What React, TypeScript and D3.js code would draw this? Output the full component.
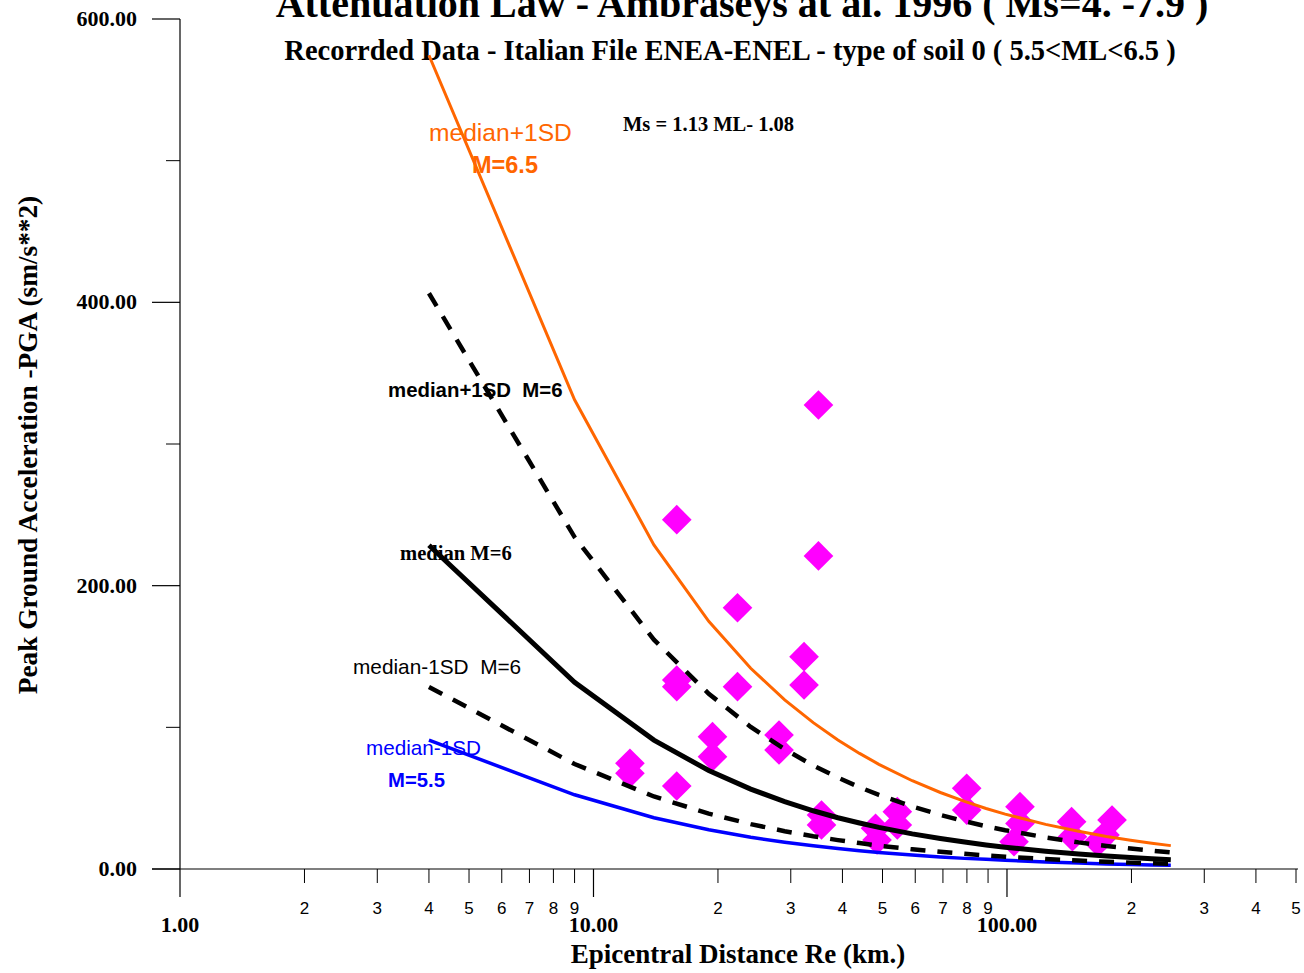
import React from "react";
import * as d3 from "d3";

// Epicentral distances (km) at which the attenuation curves are drawn
const distances = [4, 9, 14, 19, 24, 29, 34, 39, 44, 49, 59, 69, 79, 89, 99, 124, 149, 174, 199, 224, 249];

// PGA values (cm/s^2)
const plus1sdM65 = [574.4, 331.2, 228.8, 174.8, 141.7, 119.4, 103.3, 91.1, 81.6, 73.9, 62.3, 54.0, 47.7, 42.7, 38.7, 31.5, 26.6, 23.0, 20.3, 18.2, 16.5];
const plus1sdM6 = [406.4, 234.3, 161.9, 123.7, 100.3, 84.5, 73.1, 64.5, 57.7, 52.3, 44.1, 38.2, 33.7, 30.2, 27.4, 22.3, 18.8, 16.3, 14.4, 12.9, 11.7];
const medianM6 = [228.5, 131.8, 91.0, 69.5, 56.4, 47.5, 41.1, 36.2, 32.5, 29.4, 24.8, 21.5, 19.0, 17.0, 15.4, 12.5, 10.6, 9.2, 8.1, 7.2, 6.6];
const minus1sdM6 = [128.5, 74.1, 51.2, 39.1, 31.7, 26.7, 23.1, 20.4, 18.3, 16.5, 13.9, 12.1, 10.7, 9.6, 8.7, 7.0, 6.0, 5.1, 4.5, 4.1, 3.7];
const minus1sdM55 = [90.9, 52.4, 36.2, 27.7, 22.4, 18.9, 16.4, 14.4, 12.9, 11.7, 9.9, 8.5, 7.5, 6.8, 6.1, 5.0, 4.2, 3.6, 3.2, 2.9, 2.6];

// Recorded data (distance km, PGA cm/s^2)
const recDist = [12.25, 12.25, 15.9, 15.9, 15.9, 15.9, 19.4, 19.4, 22.3, 22.3, 28.1, 28.1, 32.3, 32.3, 35.0, 35.0, 35.6, 35.6, 48.1, 48.5, 54.3, 54.3, 79.9, 79.9, 107.5, 107.5, 104, 143.3, 144, 179.5, 172.6, 166];
const recPGA = [74.6, 67.6, 246.6, 133.4, 128.7, 58.6, 93.4, 79.3, 184.4, 128.7, 94.6, 84.0, 149.9, 129.9, 327.5, 221.0, 38.1, 31.1, 28.7, 20.5, 40.5, 31.1, 57.0, 41.6, 44.0, 32.2, 19.3, 33.4, 22.8, 34.6, 24.0, 19.0];

const yMajorTicks = [0, 200, 400, 600];
const yMinorTicks = [100, 300, 500];
const xMajorTicks = [1, 10, 100];
const xMinorTicks = [2, 3, 4, 5, 6, 7, 8, 9, 20, 30, 40, 50, 60, 70, 80, 90, 200, 300, 400, 500];

const SERIF = "'Liberation Serif', 'Times New Roman', serif";
const SANS = "'Liberation Sans', Arial, sans-serif";

export default function App() {
  const x = d3.scaleLog().domain([1, 500]).range([180, 1296]);
  const y = d3.scaleLinear().domain([0, 600]).range([869, 19]);

  const line = (vals: number[]) =>
    d3.line<number>().x((_, i) => x(distances[i])).y((v) => y(v))(vals) || "";

  const diamond = d3.symbol().type(d3.symbolSquare).size(440)() || "";

  return (
    <svg
      width={1304}
      height={973}
      style={{ position: "absolute", left: 0, top: 0, background: "#fff" }}
    >
      <rect width={1304} height={973} fill="#fff" />
      {/* Titles */}
      <text x={742} y={17} textAnchor="middle" fontFamily={SERIF} fontWeight="bold" fontSize={40}>
        Attenuation Law - Ambraseys at al. 1996 ( Ms=4. -7.9 )
      </text>
      <text x={730} y={60} textAnchor="middle" fontFamily={SERIF} fontWeight="bold" fontSize={28.5}>
        Recorrded Data - Italian File ENEA-ENEL - type of soil 0 ( 5.5&lt;ML&lt;6.5 )
      </text>
      <text x={623} y={131} fontFamily={SERIF} fontWeight="bold" fontSize={20.5}>
        Ms = 1.13 ML- 1.08
      </text>

      {/* Y axis */}
      <line x1={x(1)} x2={x(1)} y1={y(600)} y2={y(0)} stroke="#000" strokeWidth={1.2} />
      {yMajorTicks.map((t) => (
        <g key={"ym" + t}>
          <line x1={152} x2={180} y1={y(t)} y2={y(t)} stroke="#000" strokeWidth={1.2} />
          <text x={137} y={y(t) + 7} textAnchor="end" fontFamily={SERIF} fontWeight="bold" fontSize={22}>
            {t.toFixed(2)}
          </text>
        </g>
      ))}
      {yMinorTicks.map((t) => (
        <line key={"yn" + t} x1={166} x2={180} y1={y(t)} y2={y(t)} stroke="#000" strokeWidth={1} />
      ))}

      {/* X axis */}
      <line x1={152} x2={1298} y1={y(0)} y2={y(0)} stroke="#000" strokeWidth={1.2} />
      {xMajorTicks.map((t) => (
        <g key={"xm" + t}>
          <line x1={x(t)} x2={x(t)} y1={y(0)} y2={y(0) + 28} stroke="#000" strokeWidth={1.2} />
          <text x={x(t)} y={932} textAnchor="middle" fontFamily={SERIF} fontWeight="bold" fontSize={22}>
            {t.toFixed(2)}
          </text>
        </g>
      ))}
      {xMinorTicks.map((t) => (
        <g key={"xn" + t}>
          <line x1={x(t)} x2={x(t)} y1={y(0)} y2={y(0) + 14} stroke="#000" strokeWidth={1} />
          <text x={x(t)} y={914} textAnchor="middle" fontFamily={SANS} fontSize={17}>
            {String(t).charAt(0)}
          </text>
        </g>
      ))}

      <text x={738} y={963} textAnchor="middle" fontFamily={SERIF} fontWeight="bold" fontSize={27}>
        Epicentral Distance Re (km.)
      </text>
      <text
        transform="translate(37,445) rotate(-90)"
        textAnchor="middle"
        fontFamily={SERIF}
        fontWeight="bold"
        fontSize={27.3}
      >
        Peak Ground Acceleration -PGA (sm/s**2)
      </text>

      {/* Recorded data */}
      {recDist.map((d, i) => (
        <path
          key={"p" + i}
          d={diamond}
          transform={`translate(${x(d)},${y(recPGA[i])}) rotate(45)`}
          fill="#ff00ff"
        />
      ))}

      {/* Curves */}
      <path d={line(minus1sdM55)} fill="none" stroke="#0000ff" strokeWidth={3.5} />
      <path d={line(minus1sdM6)} fill="none" stroke="#000" strokeWidth={4.5} strokeDasharray="15 12" />
      <path d={line(medianM6)} fill="none" stroke="#000" strokeWidth={5} />
      <path d={line(plus1sdM6)} fill="none" stroke="#000" strokeWidth={4.5} strokeDasharray="15 12" />
      <path d={line(plus1sdM65)} fill="none" stroke="#ff6600" strokeWidth={3} />

      {/* Curve labels */}
      <text x={429} y={141} fontFamily={SANS} fontSize={24.6} fill="#ff6600">median+1SD</text>
      <text x={472} y={173} fontFamily={SANS} fontWeight="bold" fontSize={23.5} fill="#ff6600">M=6.5</text>
      <text x={388} y={397} fontFamily={SANS} fontWeight="bold" fontSize={20.4} style={{ whiteSpace: "pre" }}>
        {"median+1SD  M=6"}
      </text>
      <text x={400} y={560} fontFamily={SERIF} fontWeight="bold" fontSize={20.6}>median M=6</text>
      <text x={353} y={674} fontFamily={SANS} fontSize={20.8} style={{ whiteSpace: "pre" }}>
        {"median-1SD  M=6"}
      </text>
      <text x={366} y={755} fontFamily={SANS} fontSize={20.7} fill="#0000ff">median-1SD</text>
      <text x={388} y={787} fontFamily={SANS} fontWeight="bold" fontSize={20.3} fill="#0000ff">M=5.5</text>
    </svg>
  );
}
